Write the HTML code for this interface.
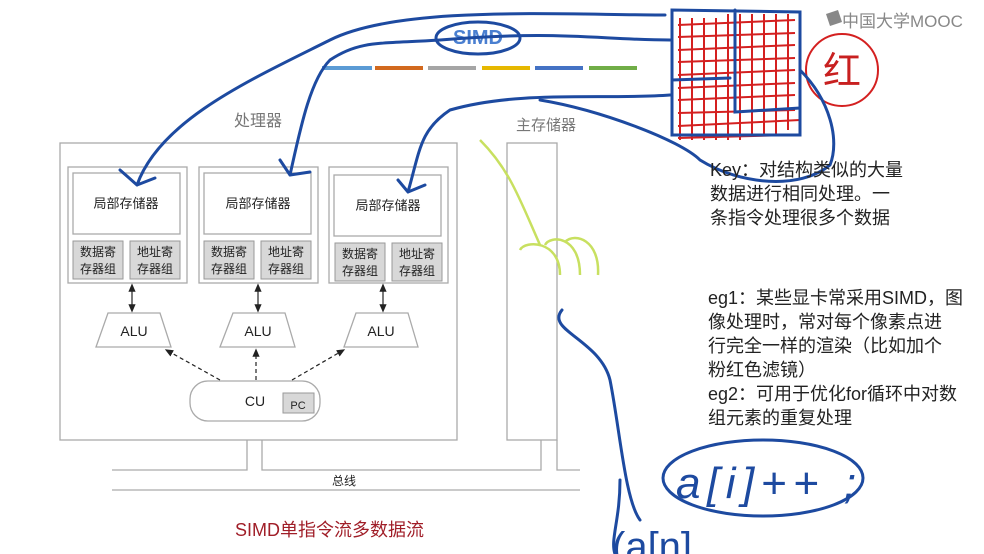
<!DOCTYPE html>
<html><head><meta charset="utf-8"><style>
body{margin:0;width:984px;height:554px;background:#fff;overflow:hidden;position:relative;font-family:"Liberation Sans","Noto Sans CJK SC",sans-serif}
.a{position:absolute}
.t{position:absolute;font-size:18px;color:#222;line-height:24px;white-space:nowrap}
</style></head><body>
<svg class="a" style="left:0;top:0" width="984" height="554" viewBox="0 0 984 554">
<defs><marker id="ar" markerWidth="8" markerHeight="8" refX="4" refY="4" orient="auto-start-reverse"><path d="M0,1 L7,4 L0,7z" fill="#222"/></marker></defs>
<g fill="none" stroke="#aaa" stroke-width="1.3">
<rect x="60" y="143" width="397" height="297" fill="#fff"/>
<rect x="507" y="143" width="50" height="297" fill="#fff"/>
<rect x="68" y="167" width="119" height="116"/><rect x="73" y="173" width="107" height="61"/>
<rect x="199" y="167" width="119" height="116"/><rect x="204" y="173" width="107" height="61"/>
<rect x="329" y="167" width="119" height="116"/><rect x="334" y="175" width="107" height="61"/>
<path d="M108,313 L160,313 L171,347 L96,347Z M233,313 L285,313 L295,347 L220,347Z M356,313 L408,313 L418,347 L344,347Z"/>
<rect x="190" y="381" width="130" height="40" rx="18"/>
<path d="M112,470 L247,470 L247,440 M262,440 L262,470 L541,470 L541,440 M557,440 L557,470 L580,470 M112,490 L580,490"/>
</g>
<g fill="#d8d8d8" stroke="#999">
<rect x="73" y="241" width="50" height="38"/><rect x="130" y="241" width="50" height="38"/>
<rect x="204" y="241" width="50" height="38"/><rect x="261" y="241" width="50" height="38"/>
<rect x="335" y="243" width="50" height="38"/><rect x="392" y="243" width="50" height="38"/>
<rect x="283" y="393" width="31" height="20"/>
</g>
<g stroke="#222" stroke-width="1.2" fill="none">
<path d="M132,287 L132,309" marker-start="url(#ar)" marker-end="url(#ar)"/>
<path d="M258,287 L258,309" marker-start="url(#ar)" marker-end="url(#ar)"/>
<path d="M383,287 L383,309" marker-start="url(#ar)" marker-end="url(#ar)"/>
<g stroke-dasharray="4,3"><path d="M220,380 L168,351" marker-end="url(#ar)"/><path d="M256,380 L256,352" marker-end="url(#ar)"/><path d="M292,380 L342,351" marker-end="url(#ar)"/></g>
</g>
<g font-size="13" fill="#222" text-anchor="middle">
<text x="126" y="208">局部存储器</text><text x="258" y="208">局部存储器</text><text x="388" y="210">局部存储器</text>
<g font-size="12"><text x="98" y="256">数据寄</text><text x="98" y="273">存器组</text><text x="155" y="256">地址寄</text><text x="155" y="273">存器组</text>
<text x="229" y="256">数据寄</text><text x="229" y="273">存器组</text><text x="286" y="256">地址寄</text><text x="286" y="273">存器组</text>
<text x="360" y="258">数据寄</text><text x="360" y="275">存器组</text><text x="417" y="258">地址寄</text><text x="417" y="275">存器组</text></g>
<g font-size="14"><text x="134" y="336">ALU</text><text x="258" y="336">ALU</text><text x="381" y="336">ALU</text><text x="255" y="406">CU</text></g>
<text x="298" y="409" font-size="11">PC</text>
<text x="344" y="485" font-size="12">总线</text>
<text x="258" y="126" font-size="16" fill="#777">处理器</text><text x="546" y="130" font-size="15" fill="#777">主存储器</text>
</g>
<g><rect x="322" y="66" width="50" height="4" fill="#5b9bd5"/><rect x="375" y="66" width="48" height="4" fill="#d2691e"/><rect x="428" y="66" width="48" height="4" fill="#a5a5a5"/><rect x="482" y="66" width="48" height="4" fill="#e6b800"/><rect x="535" y="66" width="48" height="4" fill="#4472c4"/><rect x="589" y="66" width="48" height="4" fill="#70ad47"/></g>
<text x="478" y="44" font-size="20" fill="#4a7fd0" text-anchor="middle" font-weight="bold">SIMD</text>
<g stroke="#d42020" stroke-width="2" fill="none">
<path d="M680,18 L680,140 M692,18 L692,140 M704,18 L704,140 M716,18 L716,140 M728,14 L728,140 M740,14 L740,140 M752,14 L752,135 M764,14 L764,135 M776,14 L776,135 M788,14 L788,130"/>
<path d="M678,25 L795,20 M678,37 L795,33 M678,50 L795,45 M678,62 L795,58 M678,75 L795,70 M678,88 L795,83 M678,100 L795,95 M678,113 L795,110 M678,126 L800,120 M678,138 L790,135"/>
<circle cx="842" cy="70" r="36"/>
</g>
<text x="842" y="84" font-size="38" fill="#c82020" text-anchor="middle">红</text>
<g stroke="#1d4aa0" stroke-width="3" fill="none" stroke-linecap="round">
<path d="M672,10 L672,135 L800,135 L800,12 Z M735,10 L735,112 L800,108 M672,80 L730,78"/>
<path d="M665,15 C560,15 400,5 330,40 C250,80 160,120 137,185 M137,185 L120,170 M137,185 L155,178"/>
<path d="M670,40 C600,40 560,30 440,40 C380,44 360,40 330,60 C310,80 300,130 290,175 M290,175 L280,160 M290,175 L310,172"/>
<path d="M670,95 C600,100 520,90 450,110 C420,130 420,150 408,192 M408,192 L398,180 M408,192 L425,185"/>
<path d="M800,70 C830,100 840,140 830,165 C800,190 740,185 700,160 C680,140 600,110 540,100"/>
<ellipse cx="478" cy="38" rx="42" ry="16"/>
<path d="M562,310 C545,330 600,340 610,380 C620,430 625,500 640,520 M620,480 C620,520 610,540 615,554"/>
<ellipse cx="763" cy="478" rx="100" ry="38"/>
</g>
<g stroke="#c8e060" stroke-width="2.5" fill="none"><path d="M480,140 C510,170 520,200 540,245 M520,250 C525,240 560,240 560,275 M545,245 C550,235 580,235 580,275 M565,242 C575,232 600,240 598,275"/></g>
<text x="676" y="498" font-size="44" fill="#1d4aa0" font-style="italic" textLength="180">a[i]++ ;</text>
<text x="612" y="560" font-size="40" fill="#1d4aa0">(a[n]</text>
<path d="M826,14 L838,10 L842,22 L830,26Z" fill="#888"/>
<text x="842" y="27" font-size="17" fill="#888">中国大学MOOC</text>
</svg>
<div class="t" style="left:710px;top:158px">Key：对结构类似的大量<br>数据进行相同处理。一<br>条指令处理很多个数据</div>
<div class="t" style="left:708px;top:286px">eg1：某些显卡常采用SIMD，图<br>像处理时，常对每个像素点进<br>行完全一样的渲染（比如加个<br>粉红色滤镜）<br>eg2：可用于优化for循环中对数<br>组元素的重复处理</div>
<div class="a" style="left:235px;top:516px;font-size:18px;color:#a01e28">SIMD单指令流多数据流</div>
</body></html>
